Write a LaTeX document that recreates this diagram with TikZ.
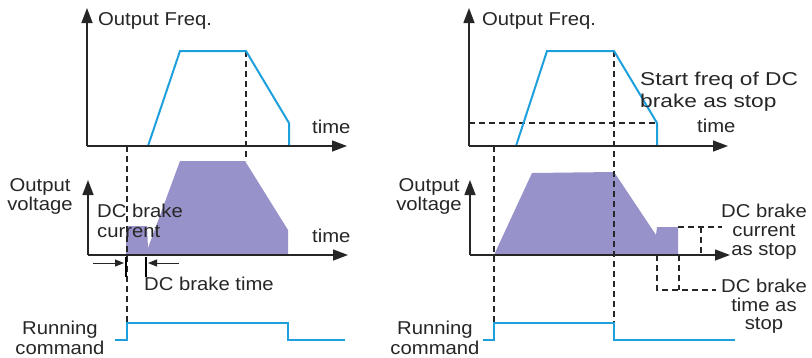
\documentclass[tikz,border=0pt]{standalone}
\usepackage{fontspec}
\usepackage{graphicx}
\setmainfont{Liberation Sans}[FakeStretch=1.09]
\usetikzlibrary{arrows.meta}
\definecolor{freqblue}{HTML}{1EA0DC}
\definecolor{volt}{HTML}{9792C9}
\definecolor{axisgray}{HTML}{262626}
\begin{document}
\begin{tikzpicture}[x=1pt,y=-1pt,
  axis/.style={draw=axisgray, line width=1.4pt, -{Triangle[length=15pt,width=11pt]}},
  wave/.style={draw=freqblue, line width=2pt, line join=miter},
  guide/.style={draw=axisgray, line width=1.1pt, dash pattern=on 6pt off 4pt},
  tick/.style={draw=black, line width=2.4pt},
  small/.style={draw=axisgray, line width=1pt, -{Triangle[length=9pt,width=7pt]}},
  lbl/.style={inner sep=0pt, font=\fontsize{18.6}{20}\selectfont, text=axisgray}]
\useasboundingbox (0,0) rectangle (812,357);

% ---------- left panel ----------
\coordinate (LFo) at (87,146); \coordinate (LFy) at (87,8); \coordinate (LFx) at (347,146);
\coordinate (LVo) at (88,255); \coordinate (LVy) at (88,180); \coordinate (LVx) at (348,255);
\fill[volt] (126,255)--(126,226)--(147,226)--(148,248)--(180,161)--(245,161)--(288,230)--(288,255)--cycle;
\draw[guide] (127,146) -- (127,323);
\draw[guide] (246,51) -- (246,161);
\draw[wave] (148,146) -- (180,51) -- (246,51) -- (289,123) -- (289,146);
\draw[axis] (LFo) -- (LFy);
\draw[axis] (LFo) -- (LFx);
\draw[axis] (LVo) -- (LVy);
\draw[axis] (LVo) -- (LVx);
\draw[wave] (115,340) -- (127,340) -- (127,323) -- (288,323) -- (288,340) -- (345,340);
\coordinate (T1a) at (126,257); \coordinate (T1b) at (126,277);
\coordinate (T2a) at (146,257); \coordinate (T2b) at (146,277);
\draw[tick] (T1a) -- (T1b);
\draw[tick] (T2a) -- (T2b);
\draw[small] (93,263) -- (124,263);
\draw[small] (179,263) -- (148,263);

\node[lbl, anchor=base west] (lf) at (98,25) {Output Freq.};
\node[lbl, anchor=base west] (lt1) at (312,133) {time};
\node[lbl, anchor=base] (lo1) at (40,191) {Output};
\node[lbl, anchor=base] (lo2) at (40,210) {voltage};
\node[lbl, anchor=base west] (lt2) at (312,242) {time};
\node[lbl, anchor=base west] (lc1) at (97,217) {DC brake};
\node[lbl, anchor=base west] (lc2) at (97,237) {current};
\node[lbl, anchor=base west] (ld) at (144,290) {DC brake time};
\node[lbl, anchor=base] (lr1) at (60,334) {Running};
\node[lbl, anchor=base] (lr2) at (60,354) {command};

% ---------- right panel ----------
\coordinate (RFo) at (469,146); \coordinate (RFy) at (469,8); \coordinate (RFx) at (728,146);
\coordinate (RVo) at (470,255); \coordinate (RVy) at (470,180); \coordinate (RVx) at (730,255);
\fill[volt] (494,255)--(532,173)--(614,172)--(656,235)--(657,227)--(678,227)--(678,255)--cycle;
\draw[guide] (494,146) -- (494,323);
\draw[guide] (614,51) -- (614,340);
\draw[guide] (469,123) -- (657,123);
\draw[guide] (678,227) -- (722,227);
\draw[guide] (701,227) -- (701,255);
\draw[guide] (657,255) -- (657,290) -- (716,290);
\draw[guide] (679,255) -- (679,290);
\draw[wave] (516,146) -- (547,51) -- (614,51) -- (657,123) -- (657,146);
\draw[axis] (RFo) -- (RFy);
\draw[axis] (RFo) -- (RFx);
\draw[axis] (RVo) -- (RVy);
\draw[axis] (RVo) -- (RVx);
\draw[wave] (483,340) -- (494,340) -- (494,323) -- (614,323) -- (614,340) -- (735,340);

\node[lbl, anchor=base west] (rf) at (482,25) {Output Freq.};
\node[lbl, anchor=base west] (rs1) at (640,85) {\scalebox{1.12}[1]{Start freq of DC}};
\node[lbl, anchor=base west] (rs2) at (640,107) {\scalebox{1.12}[1]{brake as stop}};
\node[lbl, anchor=base west] (rt1) at (697,132) {time};
\node[lbl, anchor=base] (ro1) at (429,191) {Output};
\node[lbl, anchor=base] (ro2) at (429,210) {voltage};
\node[lbl, anchor=base] (rr1) at (435,334) {Running};
\node[lbl, anchor=base] (rr2) at (435,354) {command};
\node[lbl, anchor=base] (rc1) at (764,217) {DC brake};
\node[lbl, anchor=base] (rc2) at (764,236) {current};
\node[lbl, anchor=base] (rc3) at (764,255) {as stop};
\node[lbl, anchor=base] (rd1) at (764,292) {DC brake};
\node[lbl, anchor=base] (rd2) at (764,311) {time as};
\node[lbl, anchor=base] (rd3) at (764,329) {stop};
\end{tikzpicture}
\end{document}
